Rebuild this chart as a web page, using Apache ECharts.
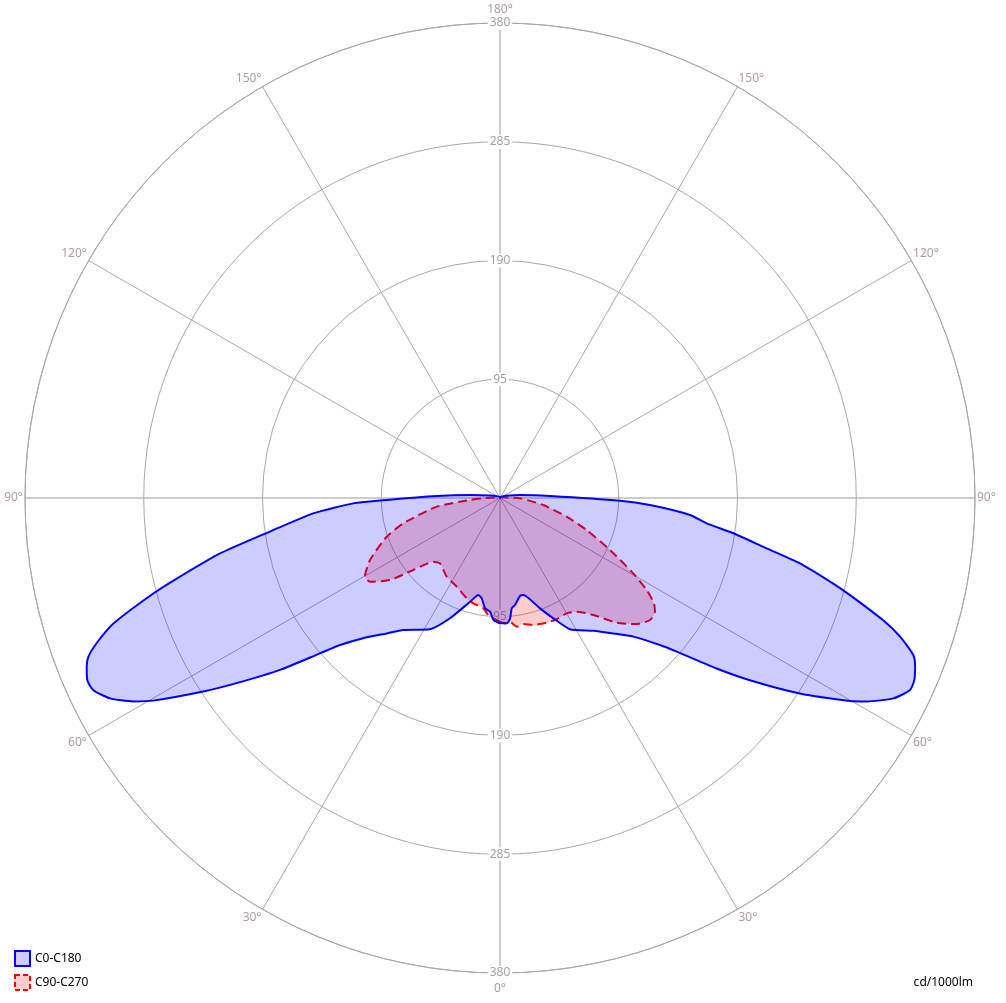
<!DOCTYPE html>
<html><head><meta charset="utf-8">
<script src="https://cdn.jsdelivr.net/npm/echarts@6/dist/echarts.min.js"></script>
<style>html,body{margin:0;padding:0;background:#fff}#chart{width:1006px;height:1003px}</style>
</head><body><div id="chart"></div>
<script>
// Radius ticks (cd/1000lm) and angle ticks (degrees)
const ringMax = 380;
const ringStep = 95;
const angleStep = 30;

// C0-C180 (blue): C180 half on the left, C0 half on the right (gamma from nadir)
const c180Gamma = [0, 0.8, 3.1, 5.0, 7.7, 10.3, 12.6, 16.1, 22.6, 28.1, 36.2, 39.9, 44.3, 47.4, 49.2, 52.0, 54.9, 56.9, 59.7, 61.0, 62.8, 64.7, 66.2, 67.8, 68.9, 70.2, 72.0, 74.6, 76.2, 78.8, 81.7, 85.3, 87.9, 89.0, 91.8, 95.7, 105, 120, 150, 180];
const c180Values = [100, 99.8, 97.7, 91.3, 89.1, 81.6, 79.5, 86.4, 104.2, 119.0, 130.9, 141.2, 156.7, 173.8, 190.2, 223.4, 257.6, 283.5, 321.3, 335.6, 350.7, 359.8, 360.9, 357.1, 353.0, 343.0, 325.2, 287.7, 263.6, 228.3, 186.0, 149.9, 117.4, 90.7, 50.7, 24.1, 8, 3, 1, 0];
const c0Gamma = [0, 3.1, 4.8, 6.1, 8.0, 11.5, 13.5, 19.9, 23.9, 28.1, 35.1, 39.9, 43.9, 47.4, 49.0, 51.8, 53.9, 56.9, 59.9, 61.0, 63.0, 64.9, 66.3, 67.9, 69.2, 70.9, 72.3, 74.5, 75.6, 77.7, 79.3, 81.4, 83.0, 84.9, 87.3, 88.7, 92.3, 98.5, 105, 120, 150, 180];
const c0Values = [100, 100.4, 96.6, 88.7, 86.4, 80, 79.8, 93.9, 105.3, 119.0, 129.8, 141.2, 153.9, 173.8, 187.3, 220.5, 247.4, 286.4, 323.7, 335.6, 353.1, 362.2, 362.0, 358.4, 353.7, 338.7, 321.8, 290.6, 275.2, 245.6, 217.1, 188.8, 166.6, 152.6, 120.1, 96.0, 40.0, 16.2, 8, 3, 1, 0];

// C90-C270 (red): C270 half on the left, C90 half on the right
const c270Gamma = [0, 3.2, 5.7, 8.6, 14.2, 18.4, 26.0, 34.1, 42.6, 46.3, 50.3, 53.3, 57.2, 59.8, 64.5, 71.1, 75.3, 82.2, 86.2, 92, 100, 180];
const c270Values = [99, 96.4, 94.1, 89.2, 86.9, 84.5, 79.0, 76.0, 71.0, 73.8, 90.2, 109.8, 123.7, 125.0, 115.2, 95.8, 80.0, 51.1, 24.1, 8, 2, 0];
const c90Gamma = [0, 2.3, 4.6, 7.4, 10.5, 14.7, 20.5, 25.1, 30.0, 34.0, 38.6, 43.1, 47.3, 50.9, 53.7, 55.6, 57.9, 60.5, 64.7, 69.7, 74.3, 80.8, 89, 95, 110, 180];
const c90Values = [99, 100.4, 99.3, 103.8, 102.5, 105.0, 106.5, 107.1, 106.6, 109.7, 119.7, 136.6, 148.7, 154.7, 153.8, 149.3, 138.5, 122.5, 97.3, 73.9, 55.4, 35.1, 16, 5, 2, 0];

const seriesNames = ['C0-C180', 'C90-C270'];
const unitText = 'cd/1000lm';

function loop(leftG, leftR, rightG, rightR) {
  const pts = [];
  for (let i = 0; i < leftG.length; i++) pts.push([leftR[i], leftG[i]]);
  for (let i = rightG.length - 1; i >= 0; i--) pts.push([rightR[i], 360 - rightG[i]]);
  return pts;
}
const blueData = loop(c180Gamma, c180Values, c0Gamma, c0Values);
const redData = loop(c270Gamma, c270Values, c90Gamma, c90Values);

const FONT = 'Noto Sans';
const radiusLabel = {
  show: true, margin: 0, align: 'center', verticalAlign: 'middle',
  color: '#a0a0a8', fontSize: 12, fontFamily: FONT,
  backgroundColor: '#ffffff', padding: [1, 2],
  formatter: v => (v === 0 ? '' : String(v))
};

const chart = echarts.init(document.getElementById('chart'), null, {renderer: 'canvas'});
chart.setOption({
  animation: false,
  backgroundColor: '#ffffff',
  title: {
    text: unitText, right: 28, top: 972,
    textStyle: {fontSize: 12, color: '#000', fontWeight: 'normal', fontFamily: FONT}
  },
  legend: {
    orient: 'vertical', left: 9, top: 945, itemWidth: 15, itemHeight: 15, itemGap: 7,
    icon: 'rect', selectedMode: false,
    textStyle: {fontSize: 12, color: '#000', fontFamily: FONT},
    data: [
      {name: seriesNames[0], itemStyle: {color: 'rgba(0,0,255,0.2)', borderColor: '#0000ff', borderWidth: 2, opacity: 1}},
      {name: seriesNames[1], itemStyle: {color: 'rgba(255,0,0,0.2)', borderColor: '#ff0000', borderWidth: 2, borderType: [5, 3], opacity: 1}}
    ]
  },
  polar: [
    {center: [500, 498], radius: 475},
    {center: [500, 498], radius: 475}
  ],
  angleAxis: [
    {
      polarIndex: 0, type: 'value', min: 0, max: 360, interval: angleStep,
      startAngle: 270, clockwise: true, z: 1,
      axisLine: {show: true, lineStyle: {color: '#a8a8a8', width: 1}},
      axisTick: {show: false},
      axisLabel: {show: true, margin: 2, color: '#b09c98', fontSize: 12, fontFamily: FONT,
        formatter: v => {
          const t = (v > 180 ? 360 - v : v) + '°';
          if (v === 180) return '{t|' + t + '}';
          if (v % 360 === 0) return '{b|' + t + '}';
          return t;
        },
        rich: {
          t: {lineHeight: 22, color: '#b09c98', fontSize: 12, fontFamily: FONT},
          b: {lineHeight: 28, color: '#b09c98', fontSize: 12, fontFamily: FONT}
        }
      },
      splitLine: {show: true, lineStyle: {color: ['#cccccc', '#a8a8a8', '#a8a8a8'], width: 1}}
    },
    {
      polarIndex: 1, type: 'value', min: 0, max: 360, interval: 90,
      startAngle: 90, clockwise: true, z: 2,
      axisLine: {show: false}, axisTick: {show: false}, axisLabel: {show: false},
      splitLine: {show: true, lineStyle: {color: '#cccccc', width: 2}}
    }
  ],
  radiusAxis: [
    {
      polarIndex: 0, type: 'value', min: 0, max: ringMax, interval: ringStep, z: 3,
      axisLine: {show: false}, axisTick: {show: false},
      splitLine: {show: true, lineStyle: {color: '#a8a8a8', width: 1}},
      axisLabel: radiusLabel
    },
    {
      polarIndex: 1, type: 'value', min: 0, max: ringMax, interval: ringStep, z: 3,
      axisLine: {show: false}, axisTick: {show: false},
      splitLine: {show: false},
      axisLabel: radiusLabel
    }
  ],
  series: [
    {
      name: seriesNames[1], type: 'line', coordinateSystem: 'polar', polarIndex: 0,
      data: redData, showSymbol: false, smooth: 0.2, z: 5,
      lineStyle: {color: '#ff0000', width: 2, type: [9, 5]},
      itemStyle: {color: '#ff0000'},
      areaStyle: {color: 'rgba(255,0,0,0.2)', opacity: 1}
    },
    {
      name: seriesNames[0], type: 'line', coordinateSystem: 'polar', polarIndex: 0,
      data: blueData, showSymbol: false, smooth: 0.2, z: 6,
      lineStyle: {color: '#0000ff', width: 2},
      itemStyle: {color: '#0000ff'},
      areaStyle: {color: 'rgba(0,0,255,0.2)', opacity: 1}
    }
  ]
});
</script>
</body></html>
